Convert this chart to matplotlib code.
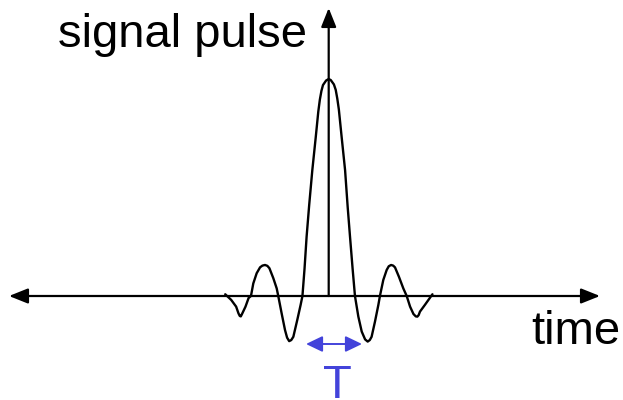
import matplotlib
matplotlib.use('Agg')
import matplotlib.pyplot as plt

# pulse samples: time in units of T/2, amplitude relative to the peak
pulse_t = [-3.98, -3.75, -3.56, -3.47, -3.42, -3.38, -3.33, -3.20, -3.08, -2.99,
           -2.90, -2.77, -2.64, -2.55, -2.45, -2.36, -2.28, -2.13, -2.00, -1.94,
           -1.81, -1.68, -1.60, -1.52, -1.44, -1.36, -1.21, -1.08, -1.01,
           -0.93, -0.85, -0.75, -0.63, -0.50, -0.40, -0.34, -0.28, -0.22, -0.10, 0.00,
           0.08, 0.20, 0.27, 0.33, 0.39, 0.50, 0.63, 0.73, 0.82, 0.92, 1.01,
           1.14, 1.27, 1.40, 1.50, 1.58, 1.65, 1.78, 1.91, 1.97,
           2.10, 2.23, 2.31, 2.40, 2.48, 2.55, 2.70, 2.87, 3.00,
           3.13, 3.26, 3.35, 3.41, 3.46, 3.51, 3.70, 3.99]
pulse_a = [0.008, -0.018, -0.049, -0.080, -0.092, -0.094, -0.082, -0.049, -0.009, 0.0,
           0.058, 0.105, 0.132, 0.140, 0.143, 0.139, 0.128, 0.082, 0.035, 0.0,
           -0.080, -0.157, -0.192, -0.208, -0.203, -0.188, -0.111, -0.041, 0.0,
           0.125, 0.273, 0.420, 0.580, 0.730, 0.850, 0.905, 0.945, 0.972, 0.993, 1.0,
           0.995, 0.975, 0.950, 0.910, 0.860, 0.730, 0.580, 0.410, 0.273, 0.125, 0.0,
           -0.095, -0.164, -0.200, -0.210, -0.203, -0.188, -0.118, -0.041, 0.0,
           0.074, 0.120, 0.137, 0.143, 0.140, 0.132, 0.089, 0.035, 0.0,
           -0.049, -0.083, -0.094, -0.095, -0.088, -0.072, -0.041, 0.008]

y_label = 'signal pulse'
x_label = 'time'
width_label = 'T'

W, H = 623, 400
X0, XS = 328.7, 26.0   # pixel of t=0, pixels per time unit
Y0, YS = 296.0, 217.0  # pixel of zero amplitude, pixels per amplitude unit
BLUE = '#4343DA'


def tx(px):
    return (px - X0) / XS


def ay(py):
    return (Y0 - py) / YS


fig = plt.figure(figsize=(W / 100, H / 100), dpi=100)
ax = fig.add_axes([0, 0, 1, 1])
ax.set_xlim(tx(0), tx(W))
ax.set_ylim(ay(H), ay(0))
ax.axis('off')

arrow_kw = dict(color='black', lw=1.6, shrinkA=0, shrinkB=0, mutation_scale=1)

# time axis, arrows both ends
ax.annotate('', xy=(tx(600), 0), xytext=(tx(9), 0),
            arrowprops=dict(arrowstyle='<|-|>,head_length=11.5,head_width=4.6', **arrow_kw))
# amplitude axis
ax.annotate('', xy=(0, ay(8)), xytext=(0, 0),
            arrowprops=dict(arrowstyle='-|>,head_length=11.5,head_width=4.6', **arrow_kw))

ax.plot(pulse_t, pulse_a, color='black', lw=1.7, solid_joinstyle='round',
        solid_capstyle='round')

# pulse width marker
ax.annotate('', xy=(tx(362), ay(344)), xytext=(tx(306), ay(344)),
            arrowprops=dict(arrowstyle='<|-|>,head_length=10,head_width=4.8',
                            color=BLUE, lw=1.4, shrinkA=0, shrinkB=0, mutation_scale=1))

font = dict(family='Liberation Sans', size=34)
ax.text(tx(58), ay(47), y_label, ha='left', va='baseline', color='black', **font)
ax.text(tx(531), ay(344), x_label, ha='left', va='baseline', color='black', **font)
ax.text(tx(337), ay(398), width_label, ha='center', va='baseline', color=BLUE, **font)

fig.savefig('out.png', dpi=100)
